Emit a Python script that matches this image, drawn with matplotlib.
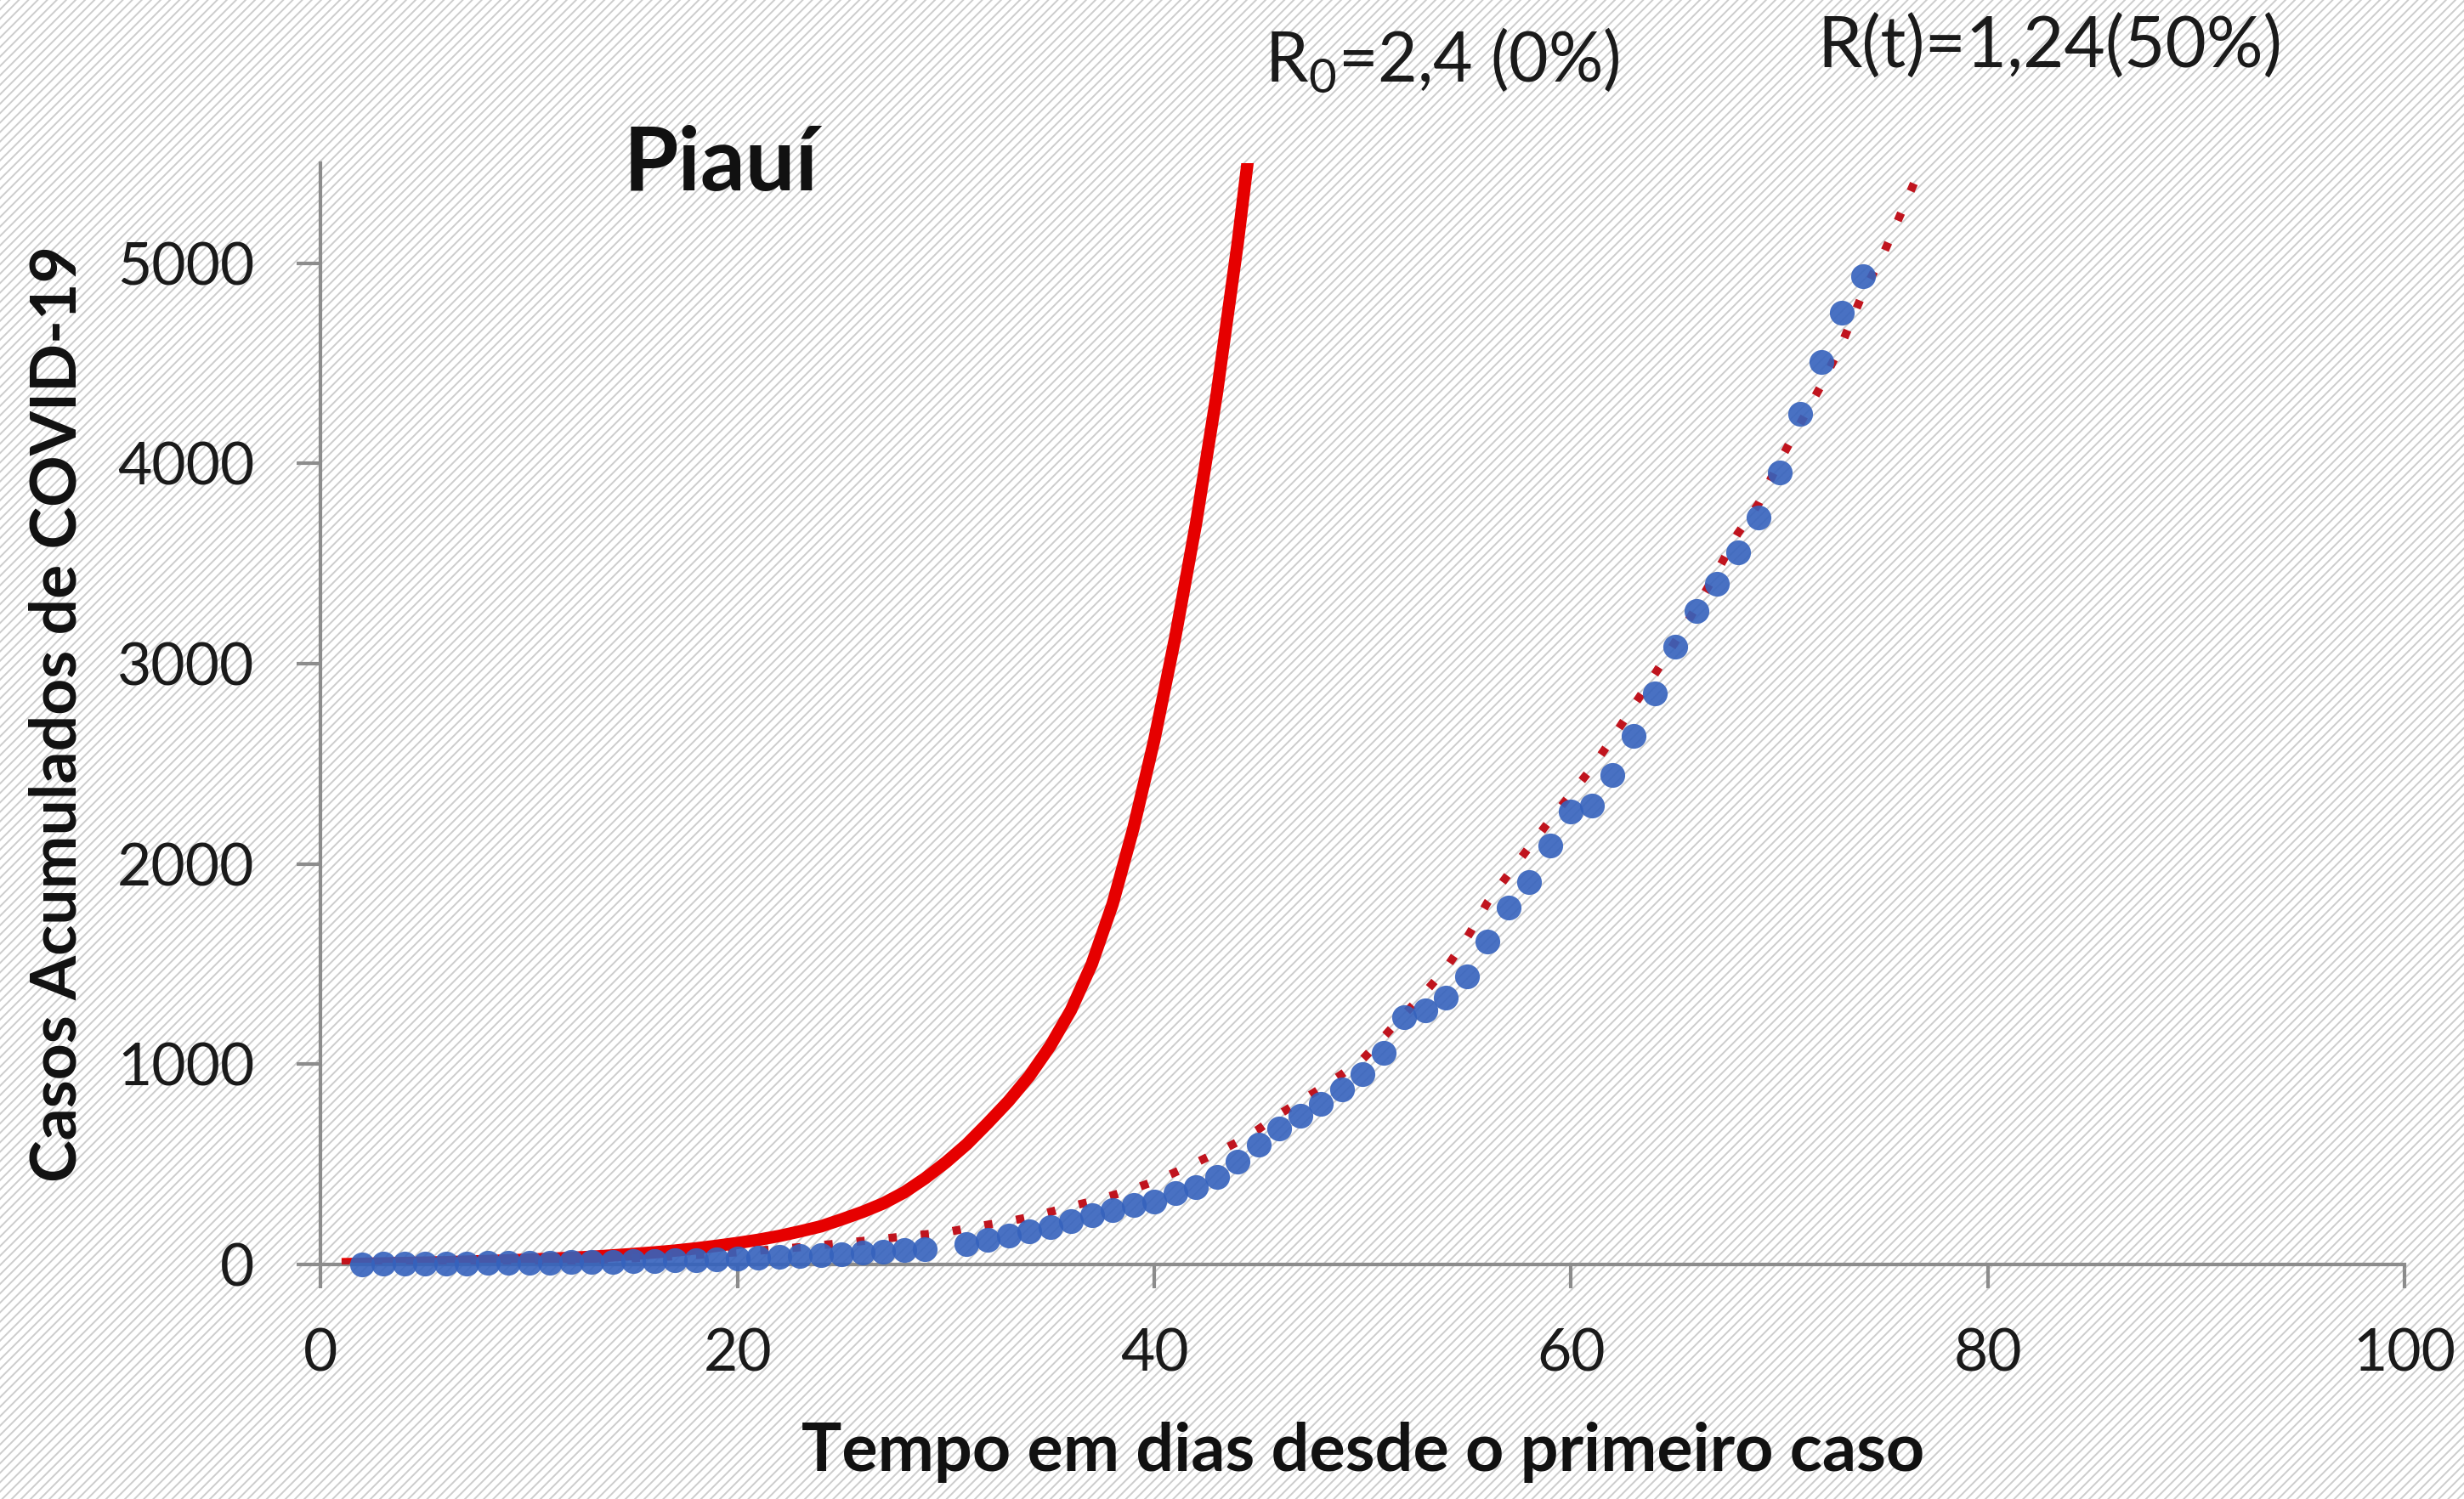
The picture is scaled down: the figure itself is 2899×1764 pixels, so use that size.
import matplotlib
matplotlib.use("Agg")
import matplotlib.pyplot as plt
from matplotlib.patches import Rectangle
import numpy as np

plt.rcParams['font.family'] = ['Lato', 'DejaVu Sans']
plt.rcParams['mathtext.fontset'] = 'custom'
plt.rcParams['mathtext.rm'] = 'Lato'
plt.rcParams['hatch.linewidth'] = 1.4

# R0 = 2.4 model (no isolation)
r0_days = list(range(1, 46))
r0_cases = [1, 3, 5, 7, 9, 11, 14, 17, 20, 24, 28, 33, 38, 45, 52, 60, 69, 80, 93, 107,
            123, 142, 165, 190, 225, 262, 305, 360, 430, 510, 600, 705, 815, 940, 1090,
            1270, 1500, 1800, 2180, 2620, 3130, 3700, 4350, 5100, 5950]

# R(t) = 1.24 model (50% isolation)
rt_days = list(range(1, 78))
rt_cases = [1, 2, 3, 4, 5, 7, 8, 10, 12, 14, 17, 20, 23, 27, 31, 36, 41, 47, 54, 61,
            69, 77, 86, 96, 106, 117, 128, 140, 150, 160, 180, 198, 215, 236, 262, 290,
            315, 345, 377, 415, 460, 508, 558, 612, 675, 750, 815, 880, 950, 1025, 1135,
            1250, 1360, 1480, 1630, 1810, 1950, 2085, 2220, 2350, 2480, 2630, 2790, 2945,
            3110, 3280, 3460, 3650, 3800, 4010, 4200, 4390, 4600, 4850, 5050, 5290, 5530]

# observed cumulative cases, Piaui (day 30 missing)
obs_days = list(range(2, 30)) + list(range(31, 75))
obs_cases = [1, 2, 3, 4, 5, 6, 7, 8, 9, 10, 11, 12, 13, 15, 17, 19, 22, 25, 30, 34,
             38, 42, 47, 52, 58, 64, 70, 76,
             100, 124, 145, 165, 185, 215, 245, 270, 295, 315, 355, 385, 435, 513, 600,
             680, 742, 800, 875, 952, 1055, 1235, 1270, 1334, 1440, 1614, 1781, 1910,
             2090, 2260, 2292, 2446, 2638, 2850, 3083, 3265, 3397, 3558, 3728, 3957,
             4249, 4506, 4754, 4935]

x_ticks = [0, 20, 40, 60, 80, 100]
y_ticks = [0, 1000, 2000, 3000, 4000, 5000]

fig = plt.figure(figsize=(28.99, 17.64), dpi=100)
fig.add_artist(Rectangle((0, 0), 1, 1, transform=fig.transFigure, facecolor='white',
                         edgecolor='#cdcdcd', hatch='///', lw=0, zorder=-10))

ax = fig.add_axes([0.1302, 0.1565, 0.8457, 0.7347])
ax.set_facecolor('none')

ax.plot(r0_days, r0_cases, color='#e60000', lw=10.5, solid_capstyle='butt', zorder=2)
ax.plot(rt_days, rt_cases, color='#c0141e', lw=7, linestyle=(0, (1, 2.9)), zorder=3)
ax.plot(obs_days, obs_cases, 'o', color='#3562bd', alpha=0.9, ms=21, mew=0,
        zorder=4, clip_on=False)

ax.set_xlim(0, 100)
ax.set_ylim(0, 5500)
ax.set_xticks(x_ticks)
ax.set_yticks(y_ticks)
ax.set_xticklabels([str(v) for v in x_ticks])
ax.set_yticklabels([str(v) for v in y_ticks])

for s in ['top', 'right']:
    ax.spines[s].set_visible(False)
for s in ['left', 'bottom']:
    ax.spines[s].set_color('#8c8c8c')
    ax.spines[s].set_linewidth(3)
ax.tick_params(axis='both', direction='out', length=20, width=3, color='#8c8c8c',
               labelsize=50, labelcolor='#1a1a1a')
ax.tick_params(axis='x', pad=34)
ax.tick_params(axis='y', pad=36)

ax.set_xlabel("Tempo em dias desde o primeiro caso", fontsize=57, fontweight='bold',
              color='#111111', labelpad=34)
ax.set_ylabel("Casos Acumulados de COVID-19", fontsize=54, fontweight='bold',
              color='#111111', labelpad=26)

fig.text(0.2925, 0.89, "Piauí", fontsize=75, fontweight='bold', color='#111111',
         ha='center', va='center')
fig.text(0.5133, 0.96, r"R$_0$=2,4 (0%)", fontsize=58, color='#1a1a1a',
         ha='left', va='center')
fig.text(0.7375, 0.968, "R(t)=1,24(50%)", fontsize=60, color='#1a1a1a',
         ha='left', va='center')

plt.savefig("out.png", dpi=100)
plt.close(fig)
